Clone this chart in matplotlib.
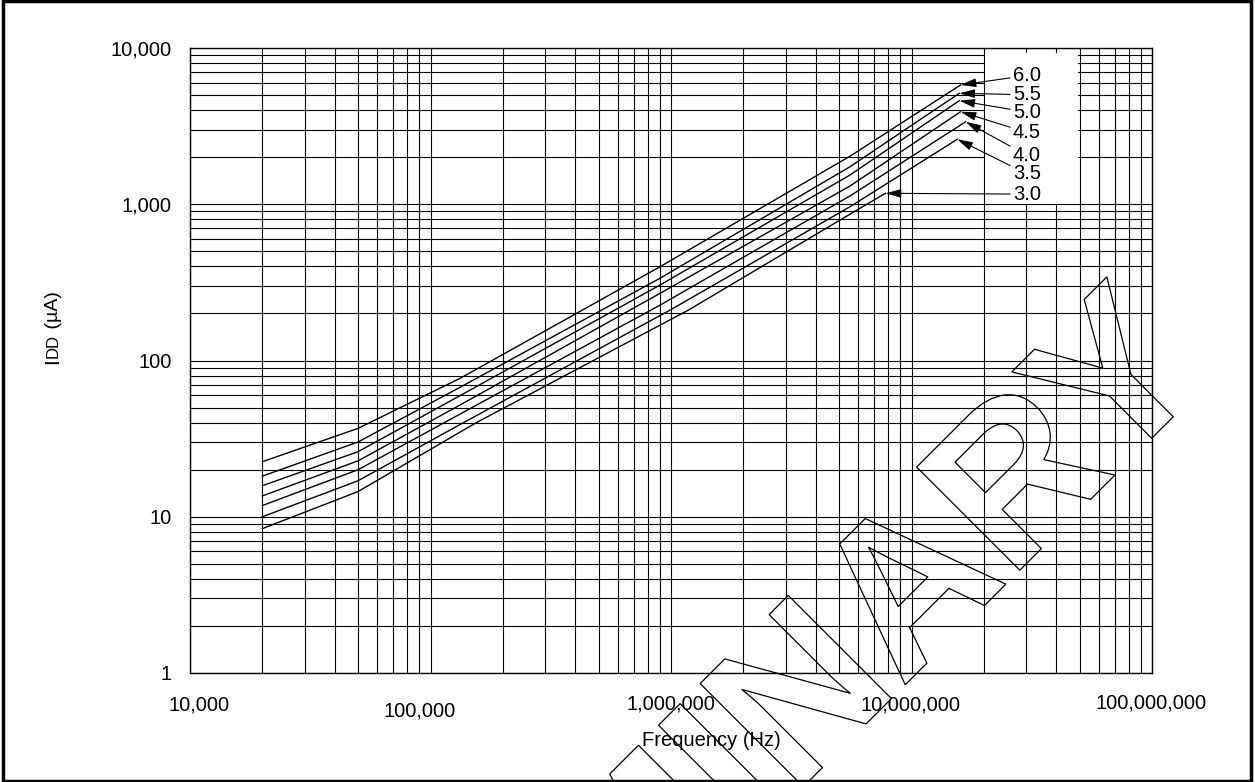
import matplotlib.pyplot as plt
from matplotlib.patches import Rectangle, PathPatch
from matplotlib.textpath import TextPath
from matplotlib.font_manager import FontProperties
from matplotlib.transforms import Affine2D

plt.rcParams['font.family'] = ['Liberation Sans', 'DejaVu Sans']

# supply voltage of each curve (top to bottom)
vdd_labels = ['6.0', '5.5', '5.0', '4.5', '4.0', '3.5', '3.0']

# frequency (Hz) and IDD (uA)
f_60 = [20e3, 50e3, 133e3, 900e3, 5.55e6, 16e6]
i_60 = [22.5, 36.8, 77, 398, 2030, 5800]
f_55 = [20e3, 50e3, 133e3, 900e3, 5.55e6, 15.8e6]
i_55 = [18.2, 30.1, 67.5, 336, 1738, 5130]
f_50 = [20e3, 50e3, 133e3, 900e3, 5.55e6, 15.8e6]
i_50 = [15.8, 26.1, 59.7, 304, 1538, 4600]
f_45 = [20e3, 50e3, 133e3, 900e3, 5.55e6, 16e6]
i_45 = [13.6, 22.8, 52.0, 269, 1308, 3910]
f_40 = [20e3, 50e3, 133e3, 900e3, 5.55e6, 16.8e6]
i_40 = [11.8, 20.0, 45.5, 226, 1130, 3373]
f_35 = [20e3, 50e3, 133e3, 990e3, 5.55e6, 15.5e6]
i_35 = [10.0, 17.0, 39.0, 210, 964, 2605]
f_30 = [20e3, 50e3, 155e3, 1.18e6, 5.93e6, 7.8e6]
i_30 = [8.4, 14.5, 40.0, 210, 918, 1175]

y_ticks = [1, 10, 100, 1000, 10000]
y_tick_labels = ['1', '10', '100', '1,000', '10,000']
x_tick_labels = ['10,000', '100,000', '1,000,000', '10,000,000', '100,000,000']

W, H = 1255, 782
fig = plt.figure(figsize=(W / 100, H / 100), dpi=100)
ax = fig.add_axes([190 / W, 109 / H, 962 / W, 625 / H])

ax.set_xscale('log')
ax.set_yscale('log')
ax.set_xlim(1e4, 1e8)
ax.set_ylim(1, 1e4)

# log paper grid
ax.grid(True, which='both', color='k', lw=0.8)
ax.tick_params(which='both', length=0)
ax.set_xticklabels([])
ax.set_xticklabels([], minor=True)
ax.set_yticks(y_ticks)
ax.set_yticklabels(y_tick_labels, fontsize=14.5)
ax.set_yticklabels([], minor=True)
ax.tick_params(axis='y', pad=13)
for s in ax.spines.values():
    s.set_linewidth(1.0)

# white box behind the voltage labels
ax.add_patch(Rectangle((2.03e7, 1010), 4.93e7 - 2.03e7, 9300 - 1010,
                       facecolor='white', edgecolor='none', zorder=1.8))

curves = [(f_60, i_60), (f_55, i_55), (f_50, i_50), (f_45, i_45),
          (f_40, i_40), (f_35, i_35), (f_30, i_30)]
label_y = [6670, 5020, 3890, 2878, 2056, 1564, 1161]
for lab, (fx, iy), ly in zip(vdd_labels, curves, label_y):
    ax.plot(fx, iy, color='k', lw=1.0, zorder=2)
    ax.annotate(lab, xy=(fx[-1], iy[-1]), xytext=(2.64e7, ly),
                textcoords='data', ha='left', va='center', fontsize=14.5, zorder=3,
                arrowprops=dict(arrowstyle='-|>,head_length=0.65,head_width=0.18',
                                color='k', lw=0.8, shrinkA=0, shrinkB=0))

# x tick labels sit a bit off their grid lines in the original
x_lab_pos = [(199, 705), (420, 711), (671, 704), (911, 705), (1151, 703)]
for lab, (px, py) in zip(x_tick_labels, x_lab_pos):
    fig.text(px / W, 1 - py / H, lab, ha='center', va='center', fontsize=14.5)

fig.text(711 / W, 1 - 740 / H, 'Frequency (Hz)', ha='center', va='center', fontsize=14.5)

# y label: "I" + smaller "DD" + " (uA)"
r = fig.canvas.get_renderer()
y0 = H - 364
parts = [('I', 15), ('DD', 12), (' (\u00b5A)', 14)]
for txt, fs in parts:
    t = fig.text(58 / W, y0 / H, txt, rotation=90, rotation_mode='anchor',
                 ha='left', va='baseline', fontsize=fs)
    y0 += t.get_window_extent(renderer=r).height

# PRELIMINARY watermark, outline only
fp = FontProperties(family='Liberation Sans', weight='bold')
wm = TextPath((0, 0), 'PRELIMINARY', size=212, prop=fp)
x_end = wm.get_extents().x1
tr = Affine2D().translate(-x_end, 0).rotate_deg(45).translate(1210, H - 380).scale(1 / 100.0)
fig.add_artist(PathPatch(wm, transform=tr + fig.dpi_scale_trans, facecolor='none',
                         edgecolor='k', lw=0.9, zorder=5))

# frame round the figure
fig.add_artist(Rectangle((3 / W, 1 / H), 1248 / W, 780 / H, transform=fig.transFigure,
                         fill=False, edgecolor='k', lw=2.5))

fig.savefig('out.png', dpi=100)
